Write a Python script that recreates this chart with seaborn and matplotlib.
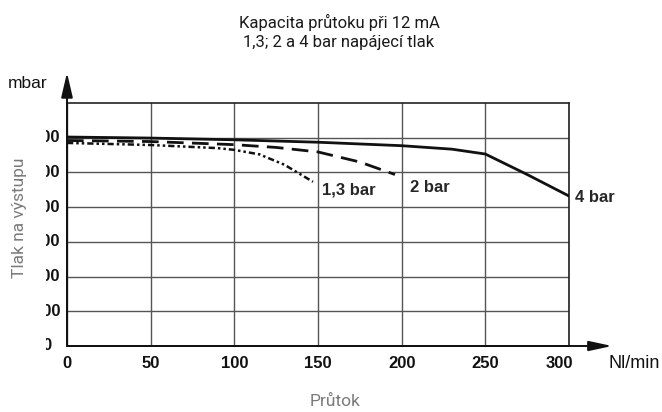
import pandas as pd
import matplotlib.pyplot as plt
import seaborn as sns
from matplotlib.patches import Rectangle
from matplotlib.transforms import ScaledTranslation, blended_transform_factory

# Flow capacity curves (Nl/min vs. output pressure in mbar)
flow_4bar = [0, 50, 100, 150, 200, 230, 250, 275, 300]
press_4bar = [602, 599, 594, 587, 577, 567, 553, 494, 432]

flow_2bar = [0, 50, 100, 125, 150, 175, 196]
press_2bar = [592, 589, 580, 572, 559, 530, 494]

flow_13bar = [0, 50, 90, 100, 115, 130, 147]
press_13bar = [585, 579, 570, 565, 552, 522, 473]

x_ticks = [0, 50, 100, 150, 200, 250, 300]
y_ticks = [0, 100, 200, 300, 400, 500, 600]

title = "Kapacita průtoku při 12 mA\n1,3; 2 a 4 bar napájecí tlak"

sns.set_style("white")
plt.rcParams['font.family'] = ['Liberation Sans', 'DejaVu Sans']

fig = plt.figure(figsize=(6.62, 4.12), dpi=100)
W, H = 662, 412
ax = fig.add_axes([67 / W, 1 - 346 / H, (569 - 67) / W, (346 - 103) / H])

df = pd.concat([
    pd.DataFrame({'flow': flow_4bar, 'pressure': press_4bar, 'series': '4 bar'}),
    pd.DataFrame({'flow': flow_2bar, 'pressure': press_2bar, 'series': '2 bar'}),
    pd.DataFrame({'flow': flow_13bar, 'pressure': press_13bar, 'series': '1,3 bar'}),
])

styles = {
    '4 bar': dict(lw=2.0, ls='-'),
    '2 bar': dict(lw=2.0, ls=(0, (6, 3))),
    '1,3 bar': dict(lw=1.8, ls=(0, (2.5, 1.2, 1, 1.2, 1, 1.2))),
}
for name, sub in df.groupby('series', sort=False):
    sns.lineplot(data=sub, x='flow', y='pressure', ax=ax, color='#111111',
                 legend=False, zorder=3, **styles[name])

ax.set_xlim(0, 300)
ax.set_ylim(0, 700)
ax.set_xticks(x_ticks)
ax.set_xticklabels([str(v) for v in x_ticks], fontweight='bold', fontsize=12)
ax.set_yticks(y_ticks)
ax.set_yticklabels([])
ax.tick_params(axis='both', length=0, colors='#111111')
ax.tick_params(axis='x', pad=7)
ax.set_xlabel('')
ax.set_ylabel('')
ax.grid(True, color='#555555', lw=1.0)
for s in ax.spines.values():
    s.set_color('#222222')
    s.set_linewidth(1.2)

# last x label sits a bit left of its gridline in the source
lbl = ax.get_xticklabels()[-1]
lbl.set_transform(lbl.get_transform() + ScaledTranslation(-10 / 100, 0, fig.dpi_scale_trans))

# y tick labels, centred left of the axis (cropped in the source image)
ytrans = blended_transform_factory(fig.transFigure, ax.transData)
for v in y_ticks:
    ax.text(46.5 / W, v, str(v), transform=ytrans, fontweight='bold', fontsize=12,
            ha='center', va='center', color='#111111', clip_on=False)

# axis arrows
ax.annotate('', xy=(0, 1.125), xytext=(0, 0), xycoords='axes fraction',
            arrowprops=dict(arrowstyle='-|>,head_length=1.5,head_width=0.35',
                            color='#111111', lw=1.4, shrinkA=0, shrinkB=0),
            annotation_clip=False)
ax.annotate('', xy=(1.086, 0), xytext=(0, 0), xycoords='axes fraction',
            arrowprops=dict(arrowstyle='-|>,head_length=1.4,head_width=0.3',
                            color='#111111', lw=1.4, shrinkA=0, shrinkB=0),
            annotation_clip=False)

# series labels
ax.text(322 / W, 1 - 190 / H, '1,3 bar', transform=fig.transFigure, fontweight='bold',
        fontsize=12, va='center', ha='left')
ax.text(410 / W, 1 - 187 / H, '2 bar', transform=fig.transFigure, fontweight='bold',
        fontsize=12, va='center', ha='left')
ax.text(575 / W, 1 - 197 / H, '4 bar', transform=fig.transFigure, fontweight='bold',
        fontsize=12, va='center', ha='left')

# the source image is cropped on the left: hide the left part of the y tick labels
fig.patches.append(Rectangle((0, 1 - 356 / H), 46 / W, (356 - 125) / H,
                             transform=fig.transFigure, facecolor='white',
                             edgecolor='none', zorder=1))

fig.text(8 / W, 1 - 83 / H, 'mbar', fontsize=12.5, va='center', ha='left', color='#111111')
fig.text(608 / W, 1 - 363 / H, 'Nl/min', fontsize=13, va='center', ha='left', color='#111111')
fig.text(339 / W, 1 - 32 / H, title, fontsize=12, family=['Roboto', 'DejaVu Sans'],
         ha='center', va='center', linespacing=1.35, color='#1a1a1a')
fig.text(335 / W, 1 - 402 / H, 'Průtok', fontsize=12.5, family=['Roboto', 'DejaVu Sans'],
         ha='center', va='center', color='#7a7a7a')
fig.text(20 / W, 1 - 218 / H, 'Tlak na výstupu', fontsize=12.5, family=['Roboto', 'DejaVu Sans'],
         rotation=90, ha='center', va='center', color='#7a7a7a', zorder=3)

fig.savefig('out.png', dpi=100)
